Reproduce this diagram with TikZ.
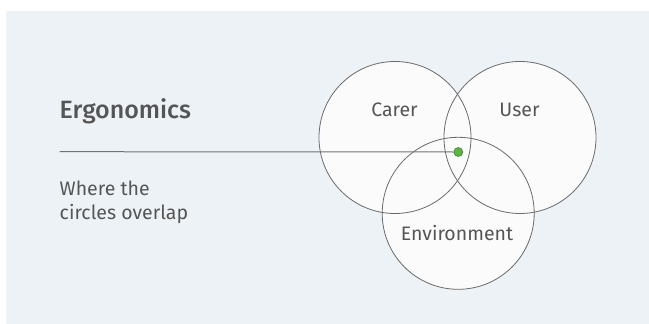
\documentclass[tikz,border=0pt]{standalone}
\usepackage{fontspec}
\setmainfont{Fira Sans}
\newfontfamily\titlefont{Fira Sans Medium}
\definecolor{bgc}{HTML}{EDF2F6}
\definecolor{txt}{HTML}{555555}
\definecolor{edge}{HTML}{6A6A6A}
\definecolor{cfill}{HTML}{FBFBFB}
\definecolor{dotfill}{HTML}{5DB547}
\definecolor{dotedge}{HTML}{3C7F30}
\tikzset{
  venn/.style={circle, minimum size=152pt, inner sep=0pt},
  lbl/.style={text=txt, font=\fontsize{19.5}{24}\selectfont, inner sep=0pt, anchor=base},
}
\begin{document}
\begin{tikzpicture}[x=1pt,y=-1pt]
\useasboundingbox (0,0) rectangle (649,324);
\fill[bgc, rounded corners=2pt] (6,11) rectangle (655,330);
% circle fills
\node[venn, fill=cfill] (carer) at (395,137.5) {};
\node[venn, fill=cfill] (user) at (520,137.5) {};
\node[venn, fill=cfill] (env) at (458.2,213.3) {};
% circle outlines
\draw[edge, line width=0.8pt] (carer.center) circle[radius=76];
\draw[edge, line width=0.8pt] (user.center) circle[radius=76];
\draw[edge, line width=0.8pt] (env.center) circle[radius=76];
% labels
\node[lbl] (lcarer) at (394.5,116.7) {Carer};
\node[lbl] (luser) at (519.5,116.7) {User};
\node[lbl] (lenv) at (457,240.7) {Environment};
% title and description
\node[text=txt, font=\titlefont\fontsize{25}{28}\selectfont, inner sep=0pt, anchor=base west] (title) at (59.5,118.3) {Ergonomics};
\node[text=txt, font=\fontsize{19.5}{24.5}\selectfont, inner sep=0pt, anchor=base west, align=left] (desc) at (59.5,219.5) {Where the\\circles overlap};
% pointer line and dot
\coordinate (start) at (59.5,151.7);
\node[circle, minimum size=9pt, inner sep=0pt, fill=dotfill, draw=dotedge, line width=0.6pt] (dot) at (458.3,152) {};
\draw[color=gray!90!black, line width=1pt] (start) -- (dot.west);
\end{tikzpicture}
\end{document}
